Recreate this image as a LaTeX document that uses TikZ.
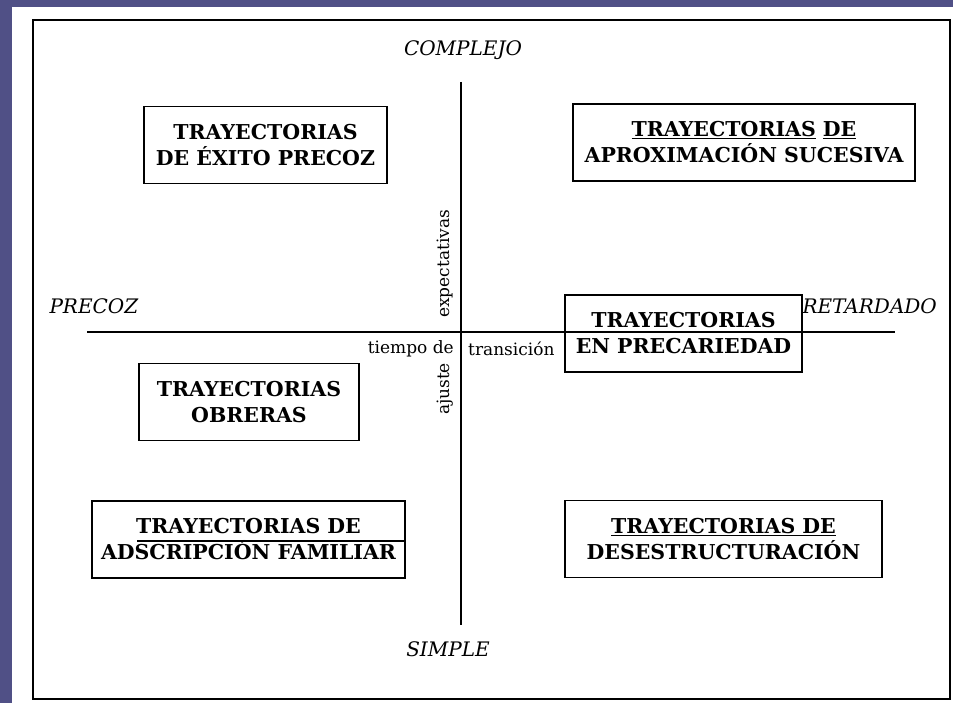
\documentclass[tikz,border=0pt]{standalone}
\usepackage{fontspec}
\setmainfont{DejaVu Serif}
\usepackage{tikz}
\definecolor{fondo}{RGB}{80, 80, 134}
\tikzstyle{trayectoria} = [rectangle, draw=black, line width=1.1pt,
                           align=center, font=\bfseries\fontsize{20.5}{26}\selectfont,
                           minimum height=77pt, inner sep=0pt]
\tikzstyle{polo} = [font=\itshape\fontsize{20}{22}\selectfont]
\tikzstyle{eje} = [line width=1.4pt]
\tikzstyle{rotulo} = [font=\fontsize{17}{19}\selectfont, inner sep=1pt]

\begin{document}
\begin{tikzpicture}[x=1pt, y=-1pt]

        %Fondo y marco
        \fill[fondo] (0,0) rectangle (953,703);
        \fill[white] (12,7) rectangle (953,703);
        \draw[line width=1.2pt] (33,20) rectangle (950,699);

        %Ejes
        \coordinate (ejeN) at (461,82);
        \coordinate (ejeS) at (461,625);
        \coordinate (ejeO) at (87,332);
        \coordinate (ejeE) at (895,332);
        \draw [eje] (ejeN) -- (ejeS);
        \draw [eje] (ejeO) -- (ejeE);

        %Polos
        \node (complejo) [polo] at (463,50) {COMPLEJO};
        \node (simple) [polo] at (448,649) {SIMPLE};
        \node (precoz) [polo, anchor=west] at (46,306) {PRECOZ};
        \node (retardado) [polo, anchor=west] at (799,306) {RETARDADO};

        %Rotulos de los ejes
        \node (expect) [rotulo, rotate=90] at (445,264) {expectativas};
        \node (ajuste) [rotulo, rotate=90] at (445,389) {ajuste};
        \node (tiempo) [rotulo, anchor=east] at (455,349) {tiempo de};
        \node (transic) [rotulo, anchor=west] at (467,349) {transición};

        %Trayectorias
        \node (exito) [trayectoria, minimum width=243pt] at (265.5,145) {TRAYECTORIAS\\DE ÉXITO PRECOZ};
        \node (aprox) [trayectoria, minimum width=342pt] at (744,142.5) {\underline{TRAYECTORIAS} \underline{DE}\\APROXIMACIÓN SUCESIVA};
        \node (precar) [trayectoria, minimum width=237pt] at (683.5,333.5) {TRAYECTORIAS\\EN PRECARIEDAD};
        \node (obreras) [trayectoria, minimum width=220pt] at (249,402) {TRAYECTORIAS\\OBRERAS};
        \node (adsc) [trayectoria, minimum width=313pt] at (248.5,539.5) {TRAYECTORIAS DE\\ADSCRIPCIÓN FAMILIAR};
        \node (desest) [trayectoria, minimum width=317pt] at (723.5,539) {\underline{TRAYECTORIAS DE}\\DESESTRUCTURACIÓN};

        %Subrayado de adscripcion
        \coordinate (subr) at (137,541);
        \draw [line width=1.2pt] (subr) -- (subr -| adsc.east);

\end{tikzpicture}
\end{document}
